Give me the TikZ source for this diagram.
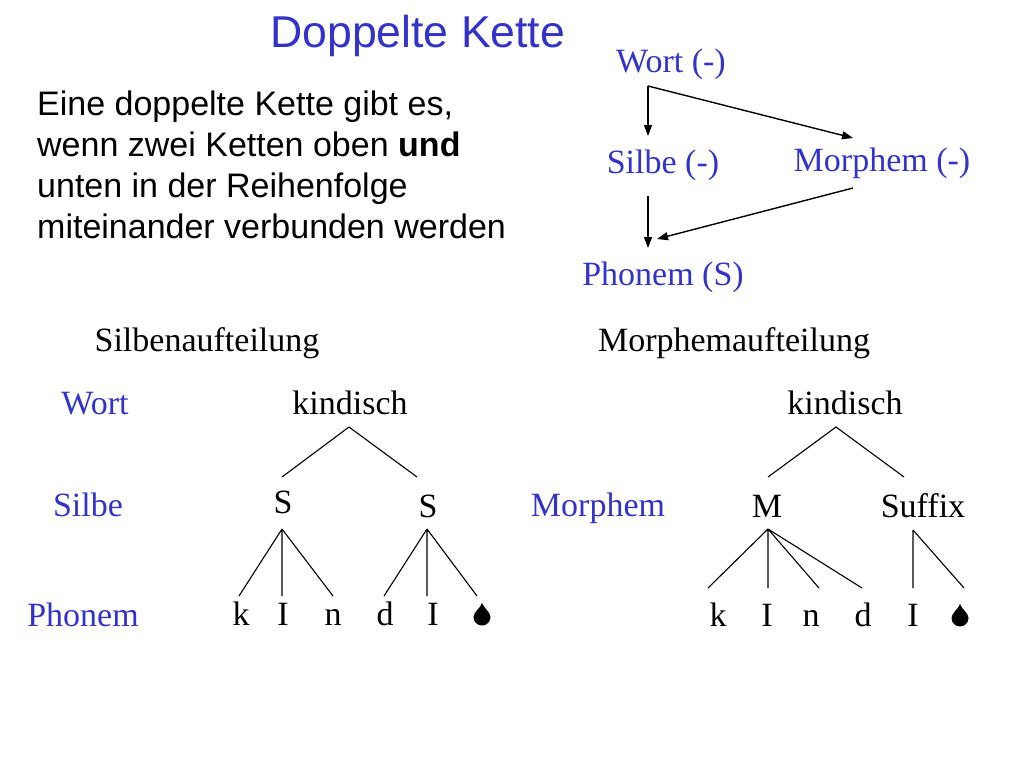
\documentclass[tikz,border=0pt]{standalone}
\usepackage{fontspec}
\setmainfont{Liberation Serif}
\newfontfamily\arialfont{Liberation Sans}
\usetikzlibrary{arrows.meta}
\definecolor{slideblue}{RGB}{51,51,204}
\tikzset{
  lbl/.style={inner sep=0pt, anchor=base, font=\fontsize{34}{40}\selectfont},
  bluelbl/.style={lbl, text=slideblue},
  edge/.style={line width=1.1pt},
  arr/.style={line width=1.4pt, -{Triangle[length=11pt,width=8pt]}},
  tropfen/.pic={
    \fill (0,-13) .. controls (1.5,-8) and (8.5,-4) .. (8.5,1)
      arc[start angle=0,end angle=180,radius=8.5]
      .. controls (-8.5,-4) and (-1.5,-8) .. (0,-13) -- cycle;
  }
}
\begin{document}
\begin{tikzpicture}[x=1pt,y=-1pt]
\useasboundingbox (0,0) rectangle (1024,768);
\fill[white] (0,0) rectangle (1024,768);

% title
\node[inner sep=0pt, anchor=base west, text=slideblue, font=\arialfont\fontsize{44.6}{50}\selectfont] (title) at (270,48) {Doppelte Kette};

% paragraph
\node[inner sep=0pt, anchor=base west, font=\arialfont\fontsize{34}{41}\selectfont, align=left] (para) at (37,238)
  {Eine doppelte Kette gibt es,\\wenn zwei Ketten oben \textbf{und}\\unten in der Reihenfolge\\miteinander verbunden werden};

% top right chain graph
\node[bluelbl] (wort) at (671,72) {Wort (-)};
\node[bluelbl] (silbe) at (663,173) {Silbe (-)};
\node[bluelbl] (morphem) at (882,171) {Morphem (-)};
\node[bluelbl] (phonem) at (663,285) {Phonem (S)};
\coordinate (w0) at (648,86);
\coordinate (wS) at (648,136);
\coordinate (wM) at (853,138);
\coordinate (s0) at (648,196);
\coordinate (sP) at (648,248);
\coordinate (m0) at (853,188);
\coordinate (mP) at (657,239);
\draw[arr] (w0) -- (wS);
\draw[arr] (w0) -- (wM);
\draw[arr] (s0) -- (sP);
\draw[arr] (m0) -- (mP);

% headings
\node[lbl] (silbauf) at (207,351) {Silbenaufteilung};
\node[lbl] (morphauf) at (734,351) {Morphemaufteilung};

% row labels
\node[bluelbl] (lwort) at (95,414) {Wort};
\node[bluelbl] (lsilbe) at (88,516) {Silbe};
\node[bluelbl] (lphonem) at (83,626) {Phonem};
\node[bluelbl] (lmorphem) at (598,516) {Morphem};

% left tree
\node[lbl] (k1) at (350,414) {kindisch};
\node[lbl] (s1) at (283,513) {S};
\node[lbl] (s2) at (428,517) {S};
\node[lbl] (p1) at (241,625) {k};
\node[lbl] (p2) at (283,625) {I};
\node[lbl] (p3) at (333,625) {n};
\node[lbl] (p4) at (385,625) {d};
\node[lbl] (p5) at (433,625) {I};
\pic (p6) at (482,616) {tropfen};
\coordinate (k1a) at (349,427);
\coordinate (s1t) at (282,477);
\coordinate (s2t) at (417,477);
\draw[edge] (s1t) -- (k1a) -- (s2t);
\coordinate (s1a) at (282,529);
\coordinate (p1t) at (239,596);
\coordinate (p2t) at (282,596);
\coordinate (p3t) at (333,596);
\draw[edge] (s1a) -- (p1t) (s1a) -- (p2t) (s1a) -- (p3t);
\coordinate (s2a) at (427,529);
\coordinate (p4t) at (384,596);
\coordinate (p5t) at (427,596);
\coordinate (p6t) at (477,596);
\draw[edge] (s2a) -- (p4t) (s2a) -- (p5t) (s2a) -- (p6t);

% right tree
\node[lbl] (k2) at (845,414) {kindisch};
\node[lbl] (m1) at (767,517) {M};
\node[lbl] (suf) at (923,517) {Suffix};
\node[lbl] (q1) at (718,626) {k};
\node[lbl] (q2) at (767,626) {I};
\node[lbl] (q3) at (811,626) {n};
\node[lbl] (q4) at (863,626) {d};
\node[lbl] (q5) at (913,626) {I};
\pic (q6) at (960,617) {tropfen};
\coordinate (k2a) at (836,427);
\coordinate (m1t) at (768,477);
\coordinate (suft) at (904,477);
\draw[edge] (m1t) -- (k2a) -- (suft);
\coordinate (m1a) at (768,529);
\coordinate (q1t) at (708,588);
\coordinate (q2t) at (768,588);
\coordinate (q3t) at (819,588);
\coordinate (q4t) at (862,588);
\draw[edge] (m1a) -- (q1t) (m1a) -- (q2t) (m1a) -- (q3t) (m1a) -- (q4t);
\coordinate (sufa) at (913,530);
\coordinate (q5t) at (913,588);
\coordinate (q6t) at (964,588);
\draw[edge] (sufa) -- (q5t) (sufa) -- (q6t);
\end{tikzpicture}
\end{document}
